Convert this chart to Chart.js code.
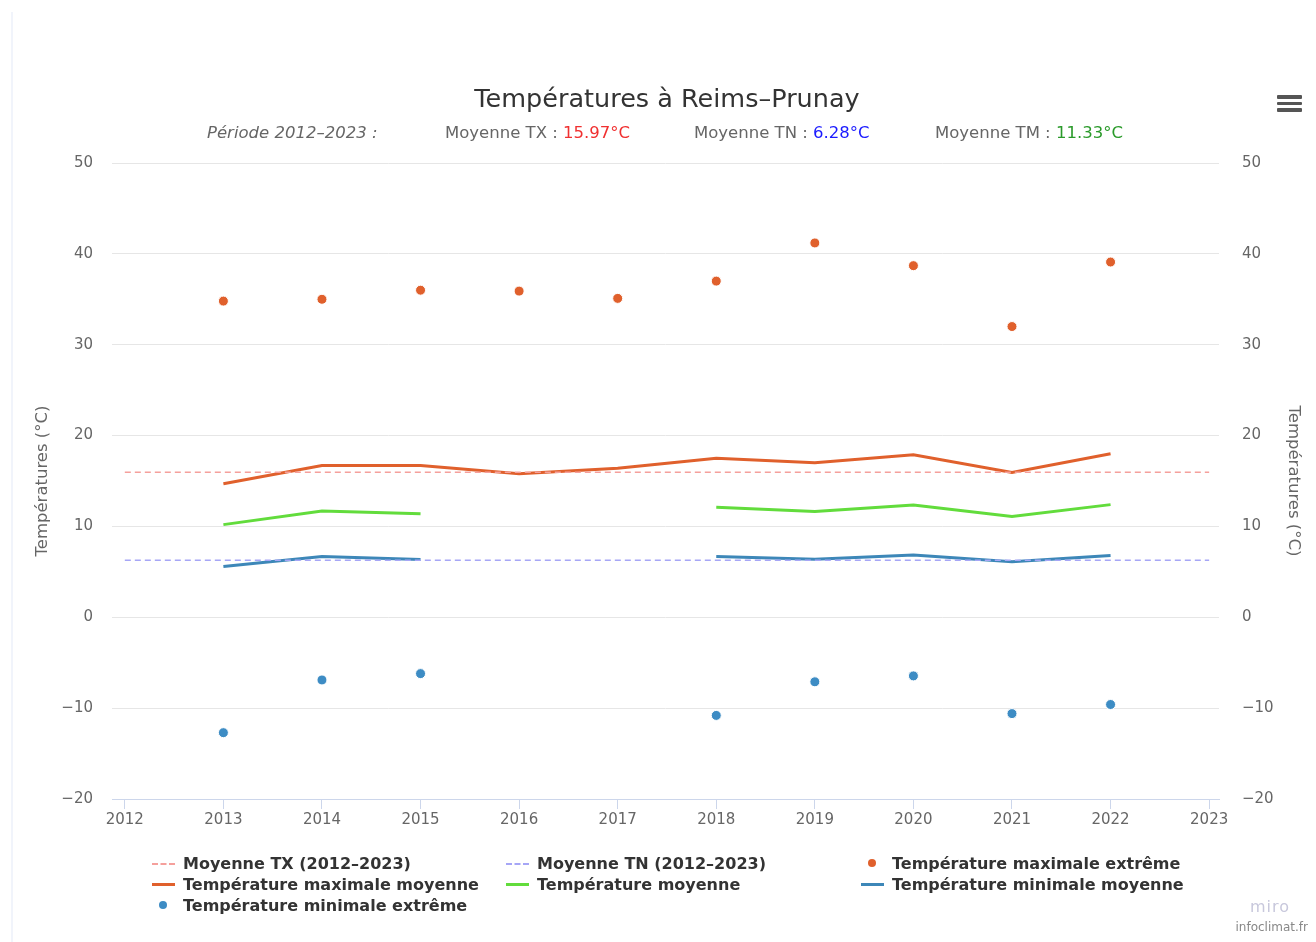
<!DOCTYPE html>
<html lang="fr">
<head>
<meta charset="utf-8">
<title>Températures à Reims-Prunay</title>
<script src="https://cdn.jsdelivr.net/npm/chart.js@4.4.1/dist/chart.umd.min.js"></script>
<style>
  html, body { margin: 0; padding: 0; background: #fff; }
  body { width: 1316px; height: 942px; position: relative; overflow: hidden; font-family: "DejaVu Sans", sans-serif; }
  .edge { position: absolute; left: 11px; top: 12px; width: 2px; bottom: 0; background: #f1f4fb; }
  #wrap { position: absolute; left: 0; top: 0; width: 1316px; height: 942px; }
  .title { position: absolute; left: 0; width: 1334px; top: 83px; text-align: center; font-size: 25.5px; color: #333; }
  .subtitle { position: absolute; top: 123px; font-size: 16.5px; color: #666; white-space: nowrap; }
  .menu { position: absolute; left: 1277px; top: 95px; width: 25px; }
  .menu div { height: 3.5px; background: #555; margin-bottom: 3px; border-radius: 1px; }
  .legend { position: absolute; top: 853px; font-size: 16px; font-weight: bold; color: #333; }
  .legend div { height: 21px; line-height: 21px; white-space: nowrap; position: relative; }
  .sym { position: absolute; left: -31px; top: 10px; width: 23px; }
  .credit { position: absolute; right: 8px; top: 920px; font-size: 12px; color: #888; }
  .miro { position: absolute; left: 1250px; top: 897px; font-size: 16px; color: #c8c8dc; letter-spacing: 1px; }
</style>
</head>
<body>
<div class="edge"></div>
<div id="wrap"><canvas id="chart" width="1316" height="942"></canvas></div>
<div class="title">Températures à Reims–Prunay</div>
<div class="subtitle" style="left:207px"><i>Période 2012–2023 :</i></div>
<div class="subtitle" style="left:445px">Moyenne TX : <span style="color:#f03030">15.97°C</span></div>
<div class="subtitle" style="left:694px">Moyenne TN : <span style="color:#1a1aff">6.28°C</span></div>
<div class="subtitle" style="left:935px">Moyenne TM : <span style="color:#2a9a2a">11.33°C</span></div>
<div class="menu"><div></div><div></div><div></div></div>

<div class="legend" style="left:183px">
  <div><span class="sym" style="border-top:2px dashed #f5a09c;"></span>Moyenne TX (2012–2023)</div>
  <div><span class="sym" style="border-top:3px solid #e0602c;top:9px"></span>Température maximale moyenne</div>
  <div><span class="sym" style="left:-24px;top:6px;width:8px;height:8px;border-radius:50%;background:#3d8cc4"></span>Température minimale extrême</div>
</div>
<div class="legend" style="left:537px">
  <div><span class="sym" style="border-top:2px dashed #a6a6f6;"></span>Moyenne TN (2012–2023)</div>
  <div><span class="sym" style="border-top:3px solid #62dc3c;top:9px"></span>Température moyenne</div>
</div>
<div class="legend" style="left:892px">
  <div><span class="sym" style="left:-24px;top:6px;width:8px;height:8px;border-radius:50%;background:#e0602c"></span>Température maximale extrême</div>
  <div><span class="sym" style="border-top:3px solid #3d87b8;top:9px"></span>Température minimale moyenne</div>
</div>
<div class="miro">miro</div>
<div class="credit">infoclimat.fr</div>

<script>
// years on the x axis
const years = [2013, 2014, 2015, 2016, 2017, 2018, 2019, 2020, 2021, 2022];
const periodYears = [2012, 2023];
const axisYears = [2012, 2013, 2014, 2015, 2016, 2017, 2018, 2019, 2020, 2021, 2022, 2023];

// period averages (dashed lines)
const moyenneTX = [15.97, 15.97];
const moyenneTN = [6.28, 6.28];

// yearly values
const txExtreme = [34.8, 35.0, 36.0, 35.9, 35.1, 37.0, 41.2, 38.7, 32.0, 39.1];
const txMoyenne = [14.7, 16.7, 16.7, 15.8, 16.4, 17.5, 17.0, 17.9, 15.95, 18.0];
const tmMoyenne = [10.2, 11.7, 11.4, null, null, 12.1, 11.65, 12.35, 11.1, 12.4];
const tnMoyenne = [5.6, 6.7, 6.35, null, null, 6.7, 6.4, 6.85, 6.1, 6.8];
const tnExtreme = [-12.7, -6.9, -6.2, null, null, -10.8, -7.1, -6.45, -10.6, -9.6];

const yTicks = [-20, -10, 0, 10, 20, 30, 40, 50];

function toPoints(xs, ys) {
    return xs.map((x, i) => ({ x: x, y: ys[i] }));
}

const tickFont = { family: 'DejaVu Sans', size: 15 };
const titleFont = { family: 'DejaVu Sans', size: 16.5 };

const ctx = document.getElementById('chart').getContext('2d');
new Chart(ctx, {
    type: 'line',
    data: {
        datasets: [
            {
                label: 'Moyenne TX (2012-2023)',
                data: toPoints(periodYears, moyenneTX),
                borderColor: '#f5a09c',
                borderWidth: 1.5,
                borderDash: [6, 4],
                pointRadius: 0
            },
            {
                label: 'Moyenne TN (2012-2023)',
                data: toPoints(periodYears, moyenneTN),
                borderColor: '#a6a6f6',
                borderWidth: 1.5,
                borderDash: [6, 4],
                pointRadius: 0
            },
            {
                label: 'Température maximale moyenne',
                data: toPoints(years, txMoyenne),
                borderColor: '#e0602c',
                borderWidth: 3,
                pointRadius: 0
            },
            {
                label: 'Température moyenne',
                data: toPoints(years, tmMoyenne),
                borderColor: '#62dc3c',
                borderWidth: 3,
                pointRadius: 0,
                spanGaps: false
            },
            {
                label: 'Température minimale moyenne',
                data: toPoints(years, tnMoyenne),
                borderColor: '#3d87b8',
                borderWidth: 3,
                pointRadius: 0,
                spanGaps: false
            },
            {
                label: 'Température maximale extrême',
                data: toPoints(years, txExtreme),
                showLine: false,
                backgroundColor: '#e0602c',
                borderColor: '#ffffff',
                borderWidth: 1,
                pointRadius: 5
            },
            {
                label: 'Température minimale extrême',
                data: toPoints(years, tnExtreme),
                showLine: false,
                backgroundColor: '#3d8cc4',
                borderColor: '#ffffff',
                borderWidth: 1,
                pointRadius: 5
            }
        ]
    },
    options: {
        responsive: false,
        animation: false,
        layout: { padding: { top: 163, bottom: 103, left: 0, right: 0 } },
        plugins: {
            legend: { display: false },
            tooltip: { enabled: false }
        },
        scales: {
            x: {
                type: 'linear',
                min: 2011.87,
                max: 2023.1,
                afterBuildTicks: function(scale) {
                    scale.ticks = axisYears.map(v => ({ value: v }));
                },
                afterFit: function(scale) { scale.height = 40; },
                border: { color: '#ccd6eb', width: 1 },
                grid: { drawOnChartArea: false, color: '#ccd6eb', tickLength: 10 },
                ticks: {
                    color: '#666',
                    font: tickFont,
                    padding: 2,
                    maxRotation: 0,
                    autoSkip: false,
                    callback: v => String(v)
                }
            },
            y: {
                position: 'left',
                min: -20,
                max: 50,
                afterBuildTicks: function(scale) {
                    scale.ticks = yTicks.map(v => ({ value: v }));
                },
                afterFit: function(scale) { scale.width = 112; },
                border: { display: false },
                grid: { color: '#e6e6e6', drawTicks: false },
                ticks: { color: '#666', font: tickFont, padding: 19, callback: v => String(v).replace('-', '−') },
                title: {
                    display: true,
                    text: 'Températures (°C)',
                    color: '#666',
                    font: titleFont,
                    padding: { top: 33, bottom: 0 }
                }
            },
            y2: {
                position: 'right',
                min: -20,
                max: 50,
                afterBuildTicks: function(scale) {
                    scale.ticks = yTicks.map(v => ({ value: v }));
                },
                afterFit: function(scale) { scale.width = 97; },
                border: { display: false },
                grid: { drawOnChartArea: false, drawTicks: false },
                ticks: { color: '#666', font: tickFont, padding: 23, callback: v => String(v).replace('-', '−') },
                title: {
                    display: true,
                    text: 'Températures (°C)',
                    color: '#666',
                    font: titleFont,
                    padding: { top: 13, bottom: 0 }
                }
            }
        }
    }
});
</script>
</body>
</html>
